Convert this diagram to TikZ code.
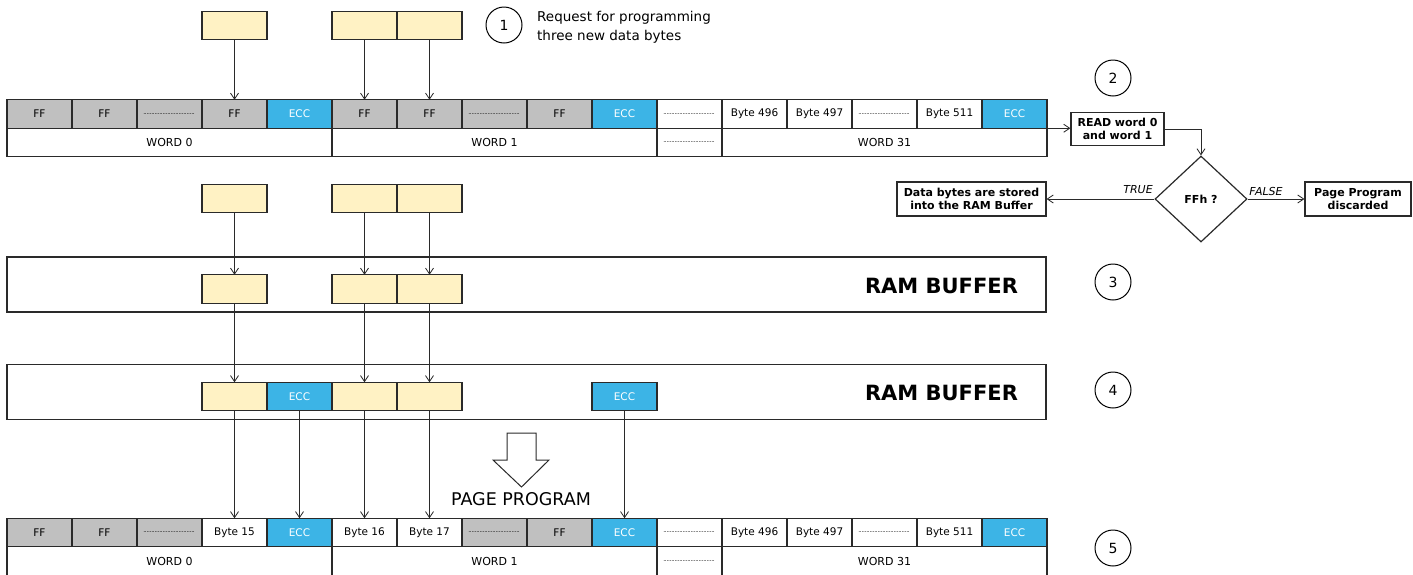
\documentclass[tikz,border=0pt]{standalone}
\usepackage{fontspec}
\setmainfont{DejaVu Sans}
\usetikzlibrary{shapes.geometric,arrows.meta}
\definecolor{grayc}{HTML}{C0C0C0}
\definecolor{eccb}{HTML}{3CB4E6}
\definecolor{daty}{HTML}{FFF2C4}
\definecolor{linec}{HTML}{2A2A2A}
\newcommand\dotrow{{\fontsize{6}{6}\selectfont\hbox to 52pt{\leaders\hbox to 1.6pt{\hss.\hss}\hfill}}}
\begin{document}
\begin{tikzpicture}[x=1pt,y=-1pt,
  cell/.style={draw=linec, line width=1.2pt, minimum width=65pt, minimum height=28.5pt,
    inner sep=0pt, outer sep=0pt, font=\fontsize{10.5}{12}\selectfont},
  ff/.style={cell, fill=grayc},
  gd/.style={cell, fill=grayc},
  ecc/.style={cell, fill=eccb, text=white},
  wc/.style={cell, fill=white},
  wd/.style={cell, fill=white},
  dat/.style={cell, fill=daty},
  word/.style={cell, fill=white, font=\fontsize{11}{13}\selectfont},
  buf/.style={draw=linec, line width=1.2pt, fill=white, minimum width=1039pt, minimum height=55pt, inner sep=0pt},
  buflabel/.style={font=\bfseries\fontsize{21}{24}\selectfont},
  step/.style={},
  num/.style={circle, draw=black, line width=1pt, minimum size=36pt, inner sep=0pt, font=\fontsize{14}{16}\selectfont},
  fbox/.style={draw=linec, line width=1.2pt, fill=white, align=center, inner sep=0pt,
    font=\bfseries\fontsize{11}{13.5}\selectfont},
  conn/.style={draw=linec, line width=0.8pt, -{Straight Barb[length=6pt,width=8pt]}},
  lbl/.style={font=\itshape\fontsize{11}{13}\selectfont, inner sep=0pt}
]
\useasboundingbox (0,0) rectangle (1413,574);

% ---------- Row 1 (flash page before) ----------
\foreach \st/\tx [count=\i] in {ff/FF,ff/FF,gd/\dotrow,ff/FF,ecc/ECC,ff/FF,ff/FF,gd/\dotrow,ff/FF,ecc/ECC,wd/\dotrow,wc/Byte 496,wc/Byte 497,wd/\dotrow,wc/Byte 511,ecc/ECC}
  \node[\st] (ra\i) at ({39.5+65*(\i-1)},114) {\tx};
\node[word, minimum width=325pt] (wa0) at (169.5,142.5) {WORD 0};
\node[word, minimum width=325pt] (wa1) at (494.5,142.5) {WORD 1};
\node[word, minimum width=65pt] (wad) at (689.5,142.5) {\dotrow};
\node[word, minimum width=325pt] (wa31) at (884.5,142.5) {WORD 31};

% ---------- new data bytes (request) ----------
\node[dat] (da) at (234.5,25.5) {};
\node[dat] (db) at (364.5,25.5) {};
\node[dat] (dc) at (429.5,25.5) {};
\draw[conn] (da.south) -- (ra4.north);
\draw[conn] (db.south) -- (ra6.north);
\draw[conn] (dc.south) -- (ra7.north);

\node[num] (n1) at (504,25) {1};
\node[anchor=west, align=left, inner sep=0pt, font=\fontsize{13.5}{19}\selectfont] (req) at (537,27)
  {Request for programming\\three new data bytes};

% ---------- flowchart ----------
\node[num] (n2) at (1113,78) {2};
\node[fbox, minimum width=93pt, minimum height=33pt] (read) at (1117.5,129) {READ word 0\\and word 1};
\draw[conn] (ra16.south east) -- (ra16.south east -| read.west);
\node[diamond, draw=linec, line width=1.2pt, fill=white, minimum width=92pt, minimum height=86pt,
  inner sep=0pt, font=\bfseries\fontsize{11}{13}\selectfont] (dia) at (1201,199) {FFh ?};
\draw[conn] (read.east) -| (dia.north);
\node[fbox, minimum width=106pt, minimum height=34pt] (disc) at (1358,199) {Page Program\\discarded};
\node[fbox, minimum width=149pt, minimum height=34pt] (stored) at (971.5,199) {Data bytes are stored\\into the RAM Buffer};
\draw[conn] (dia.east) -- (disc.west);
\draw[conn] (dia.west) -- (stored.east);
\node[lbl] (tru) at (1138,190) {TRUE};
\node[lbl] (fal) at (1266,191) {FALSE};

% ---------- data bytes to RAM buffer ----------
\node[dat] (ea) at (234.5,198.5) {};
\node[dat] (eb) at (364.5,198.5) {};
\node[dat] (ec) at (429.5,198.5) {};

\node[buf] (rb1) at (526.5,284.5) {};
\node[buflabel] (rbl1) at (941.5,286) {RAM BUFFER};
\node[num] (n3) at (1113,282) {3};
\node[dat] (ba) at (234.5,289) {};
\node[dat] (bb) at (364.5,289) {};
\node[dat] (bc) at (429.5,289) {};
\draw[conn] (ea.south) -- (ba.north);
\draw[conn] (eb.south) -- (bb.north);
\draw[conn] (ec.south) -- (bc.north);

\node[buf] (rb2) at (526.5,392) {};
\node[buflabel] (rbl2) at (941.5,393) {RAM BUFFER};
\node[num] (n4) at (1113,390) {4};
\node[dat] (ca) at (234.5,396.5) {};
\node[ecc] (ce) at (299.5,396.5) {ECC};
\node[dat] (cb) at (364.5,396.5) {};
\node[dat] (cc) at (429.5,396.5) {};
\node[ecc] (cf) at (624.5,396.5) {ECC};
\draw[conn] (ba.south) -- (ca.north);
\draw[conn] (bb.south) -- (cb.north);
\draw[conn] (bc.south) -- (cc.north);

% ---------- page program arrow ----------
\draw[draw=linec, line width=1pt, fill=white]
  (507,433) -- (536,433) -- (536,460) -- (549,460) -- (521.5,487) -- (493,460) -- (507,460) -- cycle;
\node[font=\fontsize{17.5}{20}\selectfont, inner sep=0pt] (pp) at (521,499) {PAGE PROGRAM};

% ---------- Row 5 (flash page after) ----------
\foreach \st/\tx [count=\i] in {ff/FF,ff/FF,gd/\dotrow,wc/Byte 15,ecc/ECC,wc/Byte 16,wc/Byte 17,gd/\dotrow,ff/FF,ecc/ECC,wd/\dotrow,wc/Byte 496,wc/Byte 497,wd/\dotrow,wc/Byte 511,ecc/ECC}
  \node[\st] (rc\i) at ({39.5+65*(\i-1)},532.5) {\tx};
\node[word, minimum width=325pt] (wc0) at (169.5,561) {WORD 0};
\node[word, minimum width=325pt] (wc1) at (494.5,561) {WORD 1};
\node[word, minimum width=65pt] (wcd) at (689.5,561) {\dotrow};
\node[word, minimum width=325pt] (wc31) at (884.5,561) {WORD 31};
\node[num] (n5) at (1113,548) {5};

\draw[conn] (ca.south) -- (rc4.north);
\draw[conn] (ce.south) -- (rc5.north);
\draw[conn] (cb.south) -- (rc6.north);
\draw[conn] (cc.south) -- (rc7.north);
\draw[conn] (cf.south) -- (rc10.north);
\end{tikzpicture}
\end{document}
